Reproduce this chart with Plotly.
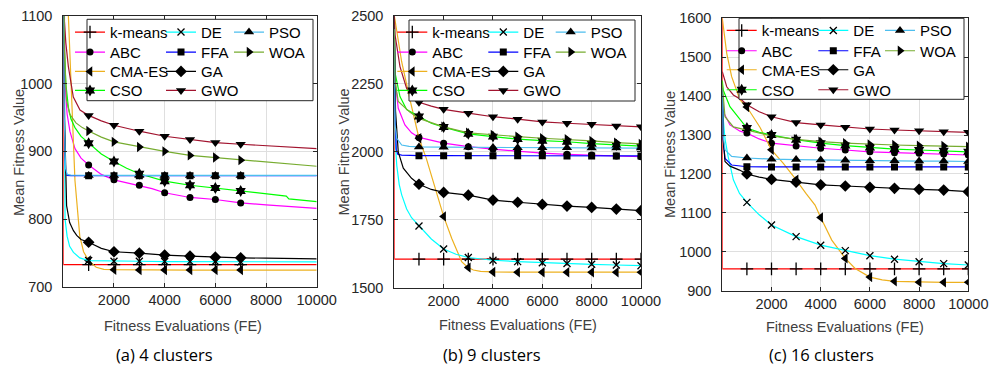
import plotly.graph_objects as go

# The figure fills the 991x368 window exactly (page margin removed after drawing).
W, H = 991, 368
OFF = 0

# ---------------- data ----------------
# plotting order (same as the legend's column-major order)
METHODS = ["k-means", "ABC", "CMA-ES", "CSO", "DE", "FFA", "GA", "GWO", "PSO", "WOA"]
FE_TICKS = [2000, 4000, 6000, 8000, 10000]
A_YTICKS = [700, 800, 900, 1000, 1100]
B_YTICKS = [1500, 1750, 2000, 2250, 2500]
C_YTICKS = [900, 1000, 1100, 1200, 1300, 1400, 1500, 1600]
CAPTIONS = ["(a) 4 clusters", "(b) 9 clusters", "(c) 16 clusters"]
STEPS = [1000, 2000, 3000, 4000, 5000, 6000, 7000, 8000, 9000, 10000]
MARKS_A = [1000, 2000, 3000, 4000, 5000, 6000, 7000]
MARKS_BC = [1000, 2000, 3000, 4000, 5000, 6000, 7000, 8000, 9000, 10000]

# (a) 4 clusters
a_kmeans_fe = [0, 1] + STEPS
a_kmeans = [3000, 733, 733, 733, 733, 733, 733, 733, 733, 733, 733, 733]
a_de_fe = [0, 30, 70, 150, 250, 400, 650] + STEPS
a_de = [1300, 950, 800, 775, 760, 751, 743, 739, 738, 738, 737.5, 737.5, 737.5, 737, 737, 737, 737]
a_pso_fe = [0, 40, 90, 150, 300] + STEPS
a_pso = [1300, 950, 875, 866, 865, 864.5, 864.5, 864.5, 864.5, 864.5, 864.5, 864.5, 864.5, 864.5, 864.5]
a_abc_fe = [0, 30, 67, 150, 264, 462, 700, 1000, 1500, 2000, 2500, 3000, 3500, 4000, 5000, 6000, 7000, 8000, 9000, 10000]
a_abc = [1300, 1100, 1002, 955, 929, 904, 890, 880, 866, 858, 854, 850, 845, 839, 832, 829, 824, 821, 819, 816]
a_ffa_fe = [0, 40, 90, 150, 300] + STEPS
a_ffa = [1300, 940, 872, 864.5, 864.2, 864.2, 864.2, 864.2, 864.2, 864.2, 864.2, 864.2, 864.2, 864.2, 864.2]
a_woa_fe = [0, 40, 130, 250, 500, 750, 1000, 1500, 2000, 3000, 4000, 5000, 6000, 7000, 8000, 9000, 10000]
a_woa = [1300, 1050, 975, 955, 942, 935, 930, 921, 914, 906.5, 900, 894, 891, 887, 884, 881, 878]
a_cma_fe = [0, 200, 460, 650, 800, 900, 1000, 1300, 1600, 2000, 3000, 4000, 5000, 6000, 7000, 8000, 9000, 10000]
a_cma = [1350, 1100, 857, 775, 752, 745, 739, 729, 726, 725.5, 725, 725, 725, 725, 725, 725, 725, 725]
a_ga_fe = [0, 50, 130, 250, 400, 530, 700, 1000, 1500, 2000, 3000, 4000, 5000, 6000, 7000, 8000, 9000, 10000]
a_ga = [1300, 950, 820, 795, 783, 776, 770, 766, 757, 752, 750, 747, 745.5, 744, 743, 742.5, 742, 741.5]
a_cso_fe = [0, 40, 100, 200, 300, 460, 700, 1000, 1500, 2000, 2500, 3000, 3500, 4000, 5000, 6000, 7000, 8000, 8800, 8900, 10000]
a_cso = [1300, 1060, 1000, 965, 948, 935, 922, 912, 896, 885, 875, 867, 861, 856, 850, 846, 841.5, 837, 834, 830, 826]
a_gwo_fe = [0, 30, 100, 200, 395, 660, 1000, 1500, 2000, 3000, 4000, 5000, 6000, 7000, 8000, 9000, 10000]
a_gwo = [1300, 1100, 1060, 1025, 980, 961, 953, 945, 938.5, 929.7, 922.3, 917.4, 913, 910.5, 908, 906, 904]

# (b) 9 clusters
b_kmeans_fe = [0, 1] + STEPS
b_kmeans = [3000, 1606, 1606, 1606, 1606, 1606, 1606, 1606, 1606, 1606, 1606, 1606]
b_de_fe = [0, 30, 100, 200, 300, 500, 700, 1000, 1500, 2000, 2500, 3000, 4000, 5000, 6000, 7000, 8000, 9000, 10000]
b_de = [2500, 2050, 1950, 1880, 1842, 1790, 1758, 1728, 1680, 1643, 1624, 1612, 1602, 1597, 1593, 1590, 1587, 1584.5, 1582]
b_pso_fe = [0, 30, 100, 300, 600] + STEPS
b_pso = [2450, 2100, 2050, 2025, 2020, 2018, 2017, 2016.5, 2016, 2015.5, 2015, 2015, 2014.5, 2014, 2014]
b_abc_fe = [0, 50, 160, 430, 700] + STEPS
b_abc = [2450, 2250, 2160, 2099, 2070, 2053, 2032, 2019, 2010, 2002, 1995, 1991, 1988, 1985, 1982]
b_ffa_fe = [0, 30, 80, 140, 300] + STEPS
b_ffa = [2450, 2150, 2010, 1991, 1988, 1986, 1986, 1986, 1985.5, 1985.5, 1985.5, 1985, 1985, 1985, 1985]
b_woa_fe = [0, 30, 160, 640] + STEPS
b_woa = [2450, 2260, 2185, 2145, 2123, 2092, 2070, 2062, 2056, 2050, 2046, 2040, 2034, 2029]
b_cma_fe = [0, 300, 640, 1000, 1300, 1500, 2000, 2330, 2730, 2950, 3000, 3200, 3500, 4000, 5000, 6000, 7000, 8000, 9000, 10000]
b_cma = [2500, 2330, 2190, 2050, 1975, 1915, 1763, 1682, 1597, 1578, 1575, 1566, 1561, 1559, 1558, 1558, 1558, 1558, 1558, 1558]
b_ga_fe = [0, 50, 160, 365, 700, 1000, 1500, 2000, 3000, 4000, 5000, 6000, 7000, 8000, 9000, 10000]
b_ga = [2500, 2150, 2000, 1940, 1903, 1881, 1862, 1851, 1841, 1823, 1815, 1807, 1801, 1796, 1790, 1784]
b_cso_fe = [0, 30, 230, 500, 1000, 1500, 2000, 3000, 4000, 5000, 6000, 7000, 8000, 9000, 10000]
b_cso = [2450, 2290, 2203, 2155, 2130, 2105, 2091, 2066, 2056, 2047, 2041, 2037, 2030, 2025, 2021]
b_gwo_fe = [0, 30, 230, 500, 770, 1000, 1500, 2000, 3000, 4000, 5000, 6000, 7000, 8000, 9000, 10000]
b_gwo = [2500, 2430, 2313, 2233, 2196, 2182, 2168, 2156, 2142, 2129, 2120, 2110, 2105, 2101, 2095, 2092]

# (c) 16 clusters
c_kmeans_fe = [0, 1] + STEPS
c_kmeans = [3000, 956, 956, 956, 956, 956, 956, 956, 956, 956, 956, 956]
c_de_fe = [0, 40, 110, 240, 450, 700, 1000, 1500, 2000, 3000, 4000, 5000, 6000, 7000, 8000, 9000, 10000]
c_de = [1420, 1340, 1290, 1244, 1185, 1150, 1127, 1095, 1069, 1039, 1017, 1003, 990, 981, 974.5, 969.5, 966]
c_pso_fe = [0, 30, 110, 380] + STEPS
c_pso = [1420, 1300, 1262, 1245, 1241, 1238, 1237, 1236, 1235, 1234, 1234, 1233, 1233, 1232]
c_abc_fe = [0, 40, 310, 720, 1000, 1500, 2000, 3000, 4000, 5000, 6000, 7000, 8000, 9000, 10000]
c_abc = [1420, 1360, 1326, 1310, 1305, 1290, 1279, 1272, 1266, 1261.6, 1257, 1254.6, 1253, 1251, 1248.7]
c_ffa_fe = [0, 30, 110, 380] + STEPS
c_ffa = [1420, 1290, 1240, 1223, 1218.5, 1218, 1218, 1218, 1218, 1218, 1218, 1218, 1218, 1218]
c_woa_fe = [0, 40, 110, 450, 1000, 1500, 2000, 3000, 4000, 5000, 6000, 7000, 8000, 9000, 10000]
c_woa = [1430, 1390, 1347, 1321, 1313, 1304, 1297.5, 1289, 1283, 1279, 1276, 1274.4, 1272.6, 1271.8, 1270]
c_cma_fe = [0, 180, 380, 720, 1000, 1530, 2000, 2480, 2950, 3000, 3400, 3770, 4000, 4450, 5000, 5400, 6000, 6500, 7000, 8000, 9000, 10000]
c_cma = [1600, 1510, 1450, 1390, 1372, 1320, 1262, 1227, 1189, 1185, 1150, 1120, 1088, 1030, 983, 957, 935, 928, 924, 922, 921.5, 921.5]
c_ga_fe = [0, 40, 110, 310, 700, 1000, 1500, 2000, 3000, 4000, 5000, 6000, 7000, 8000, 9000, 10000]
c_ga = [1420, 1290, 1232, 1220, 1210, 1200, 1192, 1186, 1179, 1172, 1169, 1165.6, 1163, 1160.5, 1158.7, 1154.5]
c_cso_fe = [0, 40, 310, 720, 1000, 1500, 2000, 3000, 4000, 5000, 6000, 7000, 8000, 9000, 10000]
c_cso = [1440, 1415, 1373, 1339, 1318, 1307, 1300, 1288, 1279, 1273, 1268, 1264, 1261.6, 1260, 1257]
c_gwo_fe = [0, 180, 450, 790, 1000, 1500, 2000, 3000, 4000, 5000, 6000, 7000, 8000, 9000, 10000]
c_gwo = [1463, 1424, 1403, 1390, 1378, 1360, 1347, 1332, 1326, 1320, 1315.5, 1313, 1311, 1308.6, 1307]

# ---------------- styles (same order as METHODS) ----------------
COLORS = ["#FF0000", "#FF00FF", "#EDB120", "#00FF00", "#00FFFF",
          "#0000FF", "#000000", "#A2142F", "#4DBEEE", "#77AC30"]
SYMBOLS = ["cross-thin-open", "circle", "triangle-left", "hexagram", "x-thin-open",
           "square", "diamond", "triangle-down", "triangle-up", "triangle-right"]
SIZES = [9, 7, 9, 9, 7, 7, 9, 9, 9, 9]
FONT = "Liberation Sans, Arial, sans-serif"
AX_COL = "#262626"

# positions below are window pixels (from top-left of the 991x368 window)
panels = [
    dict(fe=[a_kmeans_fe, a_abc_fe, a_cma_fe, a_cso_fe, a_de_fe, a_ffa_fe, a_ga_fe, a_gwo_fe, a_pso_fe, a_woa_fe],
         ys=[a_kmeans, a_abc, a_cma, a_cso, a_de, a_ffa, a_ga, a_gwo, a_pso, a_woa],
         marks=MARKS_A, yr=[700, 1100], yt=A_YTICKS,
         xd=[63.3, 316.7], yd=[15.7, 287.0],
         leg_x=70, leg_w=[46, 23], rows=[32.3, 52.3, 71.7, 90.7], box=[87, 19.3, 313, 100.7],
         ytitle=(19, 153), xtitle=(183, 326), cap=(164, 354)),
    dict(fe=[b_kmeans_fe, b_abc_fe, b_cma_fe, b_cso_fe, b_de_fe, b_ffa_fe, b_ga_fe, b_gwo_fe, b_pso_fe, b_woa_fe],
         ys=[b_kmeans, b_abc, b_cma, b_cso, b_de, b_ffa, b_ga, b_gwo, b_pso, b_woa],
         marks=MARKS_BC, yr=[1500, 2500], yt=B_YTICKS,
         xd=[394.3, 641.0], yd=[15.7, 288.0],
         leg_x=392.3, leg_w=[46, 22.4], rows=[32.3, 52.3, 71.7, 90.7], box=[409, 20, 635, 101],
         ytitle=(343, 152.5), xtitle=(518, 325), cap=(491.7, 354)),
    dict(fe=[c_kmeans_fe, c_abc_fe, c_cma_fe, c_cso_fe, c_de_fe, c_ffa_fe, c_ga_fe, c_gwo_fe, c_pso_fe, c_woa_fe],
         ys=[c_kmeans, c_abc, c_cma, c_cso, c_de, c_ffa, c_ga, c_gwo, c_pso, c_woa],
         marks=MARKS_BC, yr=[900, 1600], yt=C_YTICKS,
         xd=[722.3, 968.3], yd=[18.3, 290.7],
         leg_x=721.7, leg_w=[46.6, 21.7], rows=[30.7, 51, 70, 90], box=[739, 18.3, 964, 99.3],
         ytitle=(670, 155), xtitle=(844.7, 326.7), cap=(821.3, 354)),
]
LAST_W = 50  # width for the last entry of each legend row

fig = go.Figure()
layout = dict(width=W, height=H, autosize=False,
              margin=dict(l=0, r=0, t=0, b=0, pad=0, autoexpand=False),
              plot_bgcolor="white", paper_bgcolor="white", showlegend=True)
shapes, annotations = [], []


def fx(p):
    return (p - OFF) / W


def fy(p):
    return 1 - (p - OFF) / H


for pi, P in enumerate(panels):
    sfx = "" if pi == 0 else str(pi + 1)
    xa, ya = "x" + sfx, "y" + sfx
    n_rows = 4
    for mi, name in enumerate(METHODS):
        fe, yv = P["fe"][mi], P["ys"][mi]
        col, sym = COLORS[mi], SYMBOLS[mi]
        thin = sym.endswith("-open")
        mk = dict(symbol=sym, size=SIZES[mi], color="black",
                  line=dict(color="black", width=1.3 if thin else 0))
        fig.add_trace(go.Scatter(x=fe, y=yv, mode="lines", line=dict(color=col, width=1.2),
                                 xaxis=xa, yaxis=ya, showlegend=False, hoverinfo="skip"))
        mx = [f for f in fe if f in P["marks"]]
        my = [v for f, v in zip(fe, yv) if f in P["marks"]]
        fig.add_trace(go.Scatter(x=mx, y=my, mode="markers", marker=mk,
                                 xaxis=xa, yaxis=ya, showlegend=False, name=name))
        colidx, row = mi // n_rows, mi % n_rows
        is_last = (mi + n_rows) >= len(METHODS)
        lw = LAST_W if is_last else P["leg_w"][colidx]
        lg_index = pi * n_rows + row + 1
        lg = "legend" if lg_index == 1 else "legend%d" % lg_index
        fig.add_trace(go.Scatter(x=[None], y=[None], mode="lines+markers", name=name,
                                 line=dict(color=col, width=1.2), marker=mk,
                                 xaxis=xa, yaxis=ya, legend=lg,
                                 legendwidth=lw, showlegend=True))
    for r in range(n_rows):
        lg_index = pi * n_rows + r + 1
        lg = "legend" if lg_index == 1 else "legend%d" % lg_index
        layout[lg] = dict(x=fx(P["leg_x"]), y=fy(P["rows"][r]),
                          xanchor="left", yanchor="middle",
                          orientation="h", bgcolor="rgba(0,0,0,0)", borderwidth=0,
                          font=dict(family=FONT, size=15, color="black"),
                          tracegroupgap=0, itemclick=False, itemdoubleclick=False)
    axis_common = dict(showline=True, linecolor=AX_COL, linewidth=1, mirror="ticks",
                       ticks="inside", ticklen=4, tickcolor=AX_COL, showgrid=True,
                       gridcolor="#DFDFDF", gridwidth=1, zeroline=False,
                       ticklabeloverflow="allow",
                       tickfont=dict(family=FONT, size=14.5, color=AX_COL))
    layout["xaxis" + sfx] = dict(axis_common, domain=[fx(P["xd"][0]), fx(P["xd"][1])],
                                 range=[0, 10000], tickvals=FE_TICKS,
                                 ticktext=[str(v) for v in FE_TICKS], anchor=ya,
                                 ticklabelstandoff=0)
    layout["yaxis" + sfx] = dict(axis_common, domain=[fy(P["yd"][1]), fy(P["yd"][0])],
                                 range=P["yr"], tickvals=P["yt"],
                                 ticktext=[str(v) for v in P["yt"]], anchor=xa,
                                 ticklabelstandoff=7)
    b = P["box"]
    shapes.append(dict(type="rect", xref="paper", yref="paper", x0=fx(b[0]), x1=fx(b[2]),
                       y0=fy(b[3]), y1=fy(b[1]), line=dict(color=AX_COL, width=1),
                       fillcolor="white", layer="above"))
    annotations.append(dict(text="Mean Fitness Value", x=fx(P["ytitle"][0]), y=fy(P["ytitle"][1]),
                            xref="paper", yref="paper", showarrow=False, textangle=-90,
                            xanchor="center", yanchor="middle",
                            font=dict(family=FONT, size=14.5, color="#404040")))
    annotations.append(dict(text="Fitness Evaluations (FE)", x=fx(P["xtitle"][0]), y=fy(P["xtitle"][1]),
                            xref="paper", yref="paper", showarrow=False,
                            xanchor="center", yanchor="middle",
                            font=dict(family=FONT, size=14.5, color="#404040")))
    annotations.append(dict(text=CAPTIONS[pi], x=fx(P["cap"][0]), y=fy(P["cap"][1]),
                            xref="paper", yref="paper", showarrow=False,
                            xanchor="center", yanchor="middle",
                            font=dict(family="Open Sans, Noto Sans, sans-serif", size=16.5, color="black")))

layout["shapes"] = shapes
layout["annotations"] = annotations
fig.update_layout(**layout)
fig.write_html("out.html", config={"displayModeBar": False},
               post_script="document.body.style.margin='0px';document.body.style.overflow='hidden';")
